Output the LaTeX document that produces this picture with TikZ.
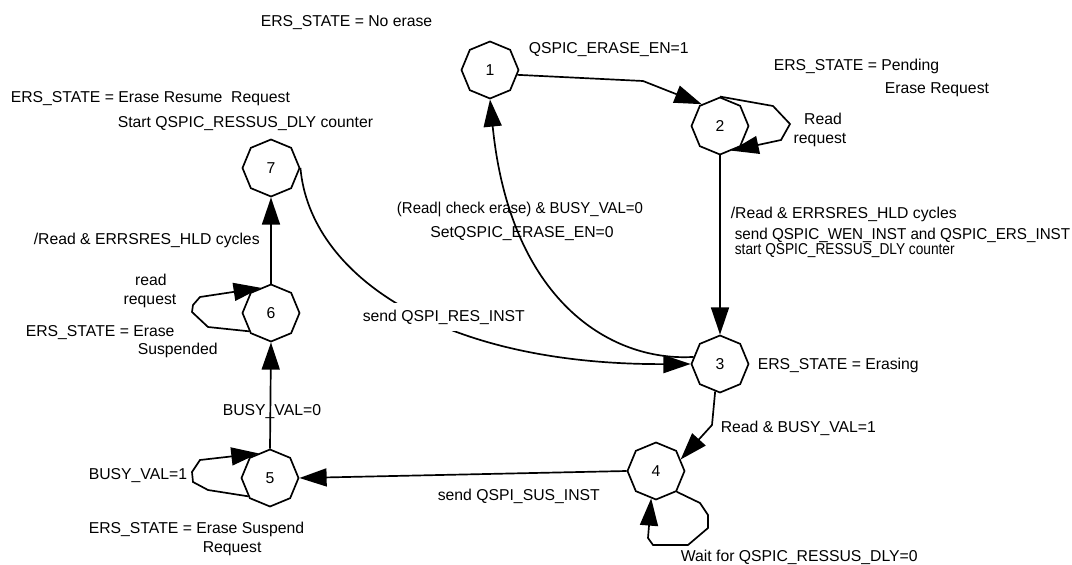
\documentclass[tikz,border=0pt]{standalone}
\usepackage{fontspec}
\usepackage{graphicx}
\setmainfont{Liberation Sans}
\usetikzlibrary{shapes.geometric,arrows.meta}
\newcommand{\ersis}{ERS\_STATE = }

\begin{document}
\begin{tikzpicture}[
  x=0.025cm, y=-0.025cm,
  line width=1.2pt,
  >={Triangle[length=0.68cm,width=0.45cm]},
  octa/.style={draw, regular polygon, regular polygon sides=8,
    shape border rotate=22.5, minimum size=1.425cm, inner sep=0pt,
    font=\fontsize{11.2}{13.5}\selectfont},
  txt/.style={inner sep=0pt, font=\fontsize{11.2}{13.5}\selectfont}]

  \useasboundingbox (0,0) rectangle (1072,565);

  \foreach \n/\x/\y in {1/490/70, 2/720/126, 3/720/364, 4/656/471,
                        5/270/478, 6/271/313, 7/271/168}
    \node[octa] (s\n) at (\x,\y) {\n};

  \draw[->] (s1.-10) -- (643,81) -- (s2.130);
  \draw[->] (s2.90) -- (773,106) -- (790,124) -- (781,140) -- (s2.-65);
  \draw[->] (s2.-90) -- (s3.90);
  \draw[->] (s3.165) .. controls (610,362) and (510,300) .. (s1.-90);
  \draw[->] (s7.0) .. controls (310,275) and (440,365) .. (s3.180);
  \draw[->] (s3.-100) -- (712,425) -- (s4.25);
  \draw[->] (s4.-45) -- (700,503) -- (708,515) -- (708,528) -- (688,545)
    -- (653,545) -- (648,538) -- (s4.-100);
  \draw[->] (s4.180) -- (s5.0);
  \draw[->] (s5.-140) -- (208,490) -- (193,482) -- (192,472) -- (200,460)
    -- (s5.115);
  \draw[->] (s5.90) -- (s6.-90);
  \draw[->] (s6.-140) -- (208,327) -- (192,312) -- (193,305) -- (200,297)
    -- (s6.112);
  \draw[->] (s6.90) -- (s7.-90);

  \node[txt, anchor=base west] (ers1) at (260,27) {\ersis No erase};
  \node[txt, anchor=base west] (lab12) at (528,54) {QSPIC\_ERASE\_EN=1};
  \node[txt, anchor=base west] (ers2a) at (773,71) {\ersis Pending};
  \node[txt, anchor=base west] (ers2b) at (884,94) {Erase Request};
  \node[txt, anchor=base] (lab22a) at (823,124) {Read};
  \node[txt, anchor=base] (lab22b) at (820,144) {request};
  \node[txt, anchor=base west] (lab23a) at (730,218) {/Read \& ERRSRES\_HLD cycles};
  \node[txt, anchor=base west] (lab23b) at (734,239)
    {\scalebox{0.965}[1]{send QSPIC\_WEN\_INST and QSPIC\_ERS\_INST}};
  \node[txt, anchor=base west] (lab23c) at (734,254)
    {\scalebox{0.87}[1]{start QSPIC\_RESSUS\_DLY counter}};
  \node[txt, anchor=base] (lab31a) at (520,213)
    {\scalebox{0.95}[1]{(Read| check erase) \& BUSY\_VAL=0}};
  \node[txt, anchor=base] (lab31b) at (522,237) {SetQSPIC\_ERASE\_EN=0};
  \node[txt, anchor=base west] (ers3) at (757,369) {\ersis Erasing};
  \node[txt, anchor=base west] (lab34) at (720,432) {Read \& BUSY\_VAL=1};
  \node[txt, anchor=base west] (lab45) at (437,500) {send QSPI\_SUS\_INST};
  \node[txt, anchor=base west] (lab44) at (680,561) {Wait for QSPIC\_RESSUS\_DLY=0};
  \node[txt, anchor=base west] (lab55) at (88,479) {BUSY\_VAL=1};
  \node[txt, anchor=base west] (ers5a) at (88,533) {\ersis Erase Suspend};
  \node[txt, anchor=base west] (ers5b) at (202,552) {Request};
  \node[txt, anchor=base west] (lab56) at (222,415) {BUSY\_VAL=0};
  \node[txt, anchor=base] (lab66a) at (151,285) {read};
  \node[txt, anchor=base] (lab66b) at (150,304) {request};
  \node[txt, anchor=base west] (ers6a) at (25,336) {\ersis Erase};
  \node[txt, anchor=base west] (ers6b) at (137,354) {Suspended};
  \node[txt, anchor=base west] (lab67) at (33,244) {/Read \& ERRSRES\_HLD cycles};
  \node[txt, anchor=base west] (ers7a) at (10,103) {\ersis Erase Resume\ \ Request};
  \node[txt, anchor=base west] (ers7b) at (117,127) {Start QSPIC\_RESSUS\_DLY counter};
  \node[txt, anchor=base west, fill=white, inner ysep=5pt] (lab73) at (362,321) {send QSPI\_RES\_INST};
\end{tikzpicture}
\end{document}
